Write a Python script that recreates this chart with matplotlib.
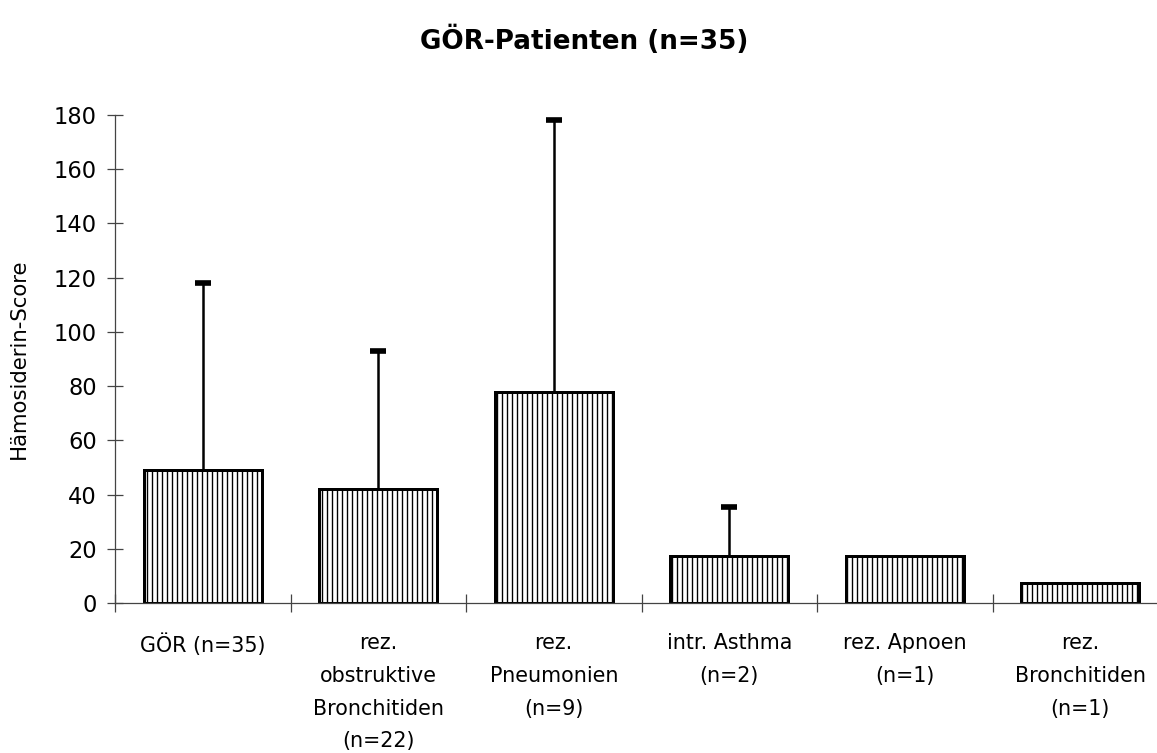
import matplotlib
matplotlib.use("Agg")
import matplotlib.pyplot as plt
import numpy as np

# Hämosiderin-Score by clinical group
categories = [
    "GÖR (n=35)",
    "rez.\nobstruktive\nBronchitiden\n(n=22)",
    "rez.\nPneumonien\n(n=9)",
    "intr. Asthma\n(n=2)",
    "rez. Apnoen\n(n=1)",
    "rez.\nBronchitiden\n(n=1)",
]
means = [49, 42, 78, 17.5, 17.5, 7.5]
sd_upper = [69, 51, 100, 18, 0, 0]   # upper error (SD); none for n=1
yticks = [0, 20, 40, 60, 80, 100, 120, 140, 160, 180]

DPI = 90
plt.rcParams["font.family"] = ["DejaVu Sans"]
plt.rcParams["hatch.linewidth"] = 1.1
plt.rcParams["hatch.color"] = "black"

fig = plt.figure(figsize=(1157 / DPI, 753 / DPI), dpi=DPI)
ax = fig.add_axes([115 / 1157, 1 - 603 / 753, 1053 / 1157, 488 / 753])

x = np.arange(len(categories))
ax.bar(x, means, width=0.67, color="white", edgecolor="black",
       linewidth=2.4, hatch="|||", zorder=2)

# one-sided (upper) error bars: stem from bar top plus a cap at the end
means_arr = np.array(means, dtype=float)
err_arr = np.array(sd_upper, dtype=float)
mask = err_arr > 0
ax.vlines(x[mask], means_arr[mask], means_arr[mask] + err_arr[mask],
          color="black", linewidth=2.0, zorder=3)
ax.plot(x[mask], means_arr[mask] + err_arr[mask], linestyle="none",
        marker="_", markersize=13, markeredgewidth=4.5, color="black",
        zorder=3)

ax.set_xlim(-0.5, len(categories) - 0.5)
ax.set_ylim(0, 180)
ax.set_yticks(yticks)
ax.set_yticklabels([str(v) for v in yticks], fontsize=18)

ax.set_xticks(x)
ax.set_xticklabels(categories, fontsize=16.5, linespacing=1.8, va="top")
ax.set_xticks(np.arange(-0.5, len(categories) + 0.5, 1.0), minor=True)
ax.tick_params(axis="x", which="major", length=0, pad=24)
ax.tick_params(axis="x", which="minor", direction="inout", length=14,
               width=1.0, color="#444444")
ax.tick_params(axis="y", direction="inout", length=13, width=1.0,
               color="#444444", pad=8)

for s in ("top", "right"):
    ax.spines[s].set_visible(False)
for s in ("left", "bottom"):
    ax.spines[s].set_color("#444444")
    ax.spines[s].set_linewidth(1.0)

ax.set_ylabel("Hämosiderin-Score", fontsize=17, labelpad=20)
fig.text(0.505, 0.947, "GÖR-Patienten (n=35)", ha="center", va="center",
         fontsize=21, fontweight="bold")

fig.savefig("out.png", dpi=DPI)
